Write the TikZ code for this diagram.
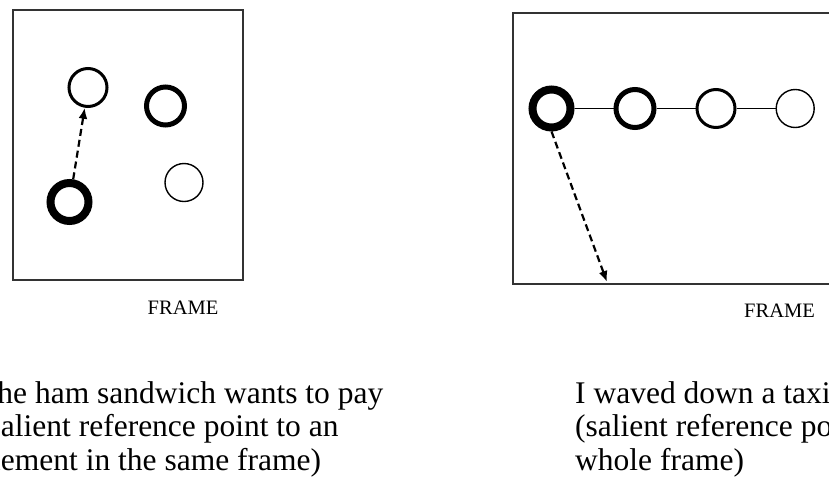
\documentclass[tikz,border=0pt]{standalone}
\usepackage{fontspec}
\setmainfont{Liberation Serif}
\usetikzlibrary{arrows.meta, positioning}
\tikzset{
  ring/.style = {
    circle, draw=black, minimum size=38pt, inner sep=0pt
  },
  heavy/.style = {ring, line width=8pt},
  bold/.style = {ring, line width=5pt},
  medium/.style = {ring, line width=3pt},
  light/.style = {ring, line width=1.4pt},
  framebox/.style = {
    draw=black!80, line width=1.6pt, inner sep=0pt, anchor=north west
  },
  framelabel/.style = {
    font=\fontsize{20.5}{22}\selectfont, anchor=base, inner sep=0pt
  },
  caption/.style = {
    font=\fontsize{31.5}{33.5}\selectfont, align=left,
    anchor=base west, inner sep=0pt
  },
  arrow/.style = {
    line width=2.2pt, dash pattern=on 7pt off 4pt,
    -{Latex[length=11pt, width=9pt]}
  },
  link/.style = {line width=1.2pt}
}
\begin{document}
\begin{tikzpicture}[x=1pt, y=-1pt]
  \useasboundingbox (0,0) rectangle (829,482);
  \clip (0,0) rectangle (829,482);

  % Left frame
  \node[framebox, minimum width=230pt, minimum height=270pt] (leftframe) at (12,9) {};
  \node[medium] (near) at (88,87.5) {};
  \node[bold] (other) at (165.5,106) {};
  \node[light] (faint) at (184,182.5) {};
  \node[heavy] (salient) at (69.5,202) {};
  \node[framelabel] (leftlabel) at (183,314.5) {FRAME};

  % Right frame
  \node[framebox, minimum width=330pt, minimum height=271pt] (rightframe) at (512,12) {};
  \node[heavy] (taxi) at (551.5,108.5) {};
  \node[bold, right=39pt of taxi] (second) {};
  \node[medium, right=39pt of second] (third) {};
  \node[light, right=39pt of third] (fourth) {};
  \coordinate (edge) at (607,282);
  \node[framelabel] (rightlabel) at (779.5,317) {FRAME};

  % Links and arrows
  \draw[link] (taxi) -- (second);
  \draw[link] (second) -- (third);
  \draw[link] (third) -- (fourth);
  \draw[arrow] (salient) -- (near);
  \draw[arrow] (taxi.south) -- (edge);

  % Captions
  \node[caption] (leftcaption) at (-22,470)
    {The ham sandwich wants to pay\\(salient reference point to an\\element in the same frame)};
  \node[caption] (rightcaption) at (575,470)
    {I waved down a taxi\\(salient reference point\\whole frame)};

\end{tikzpicture}
\end{document}
